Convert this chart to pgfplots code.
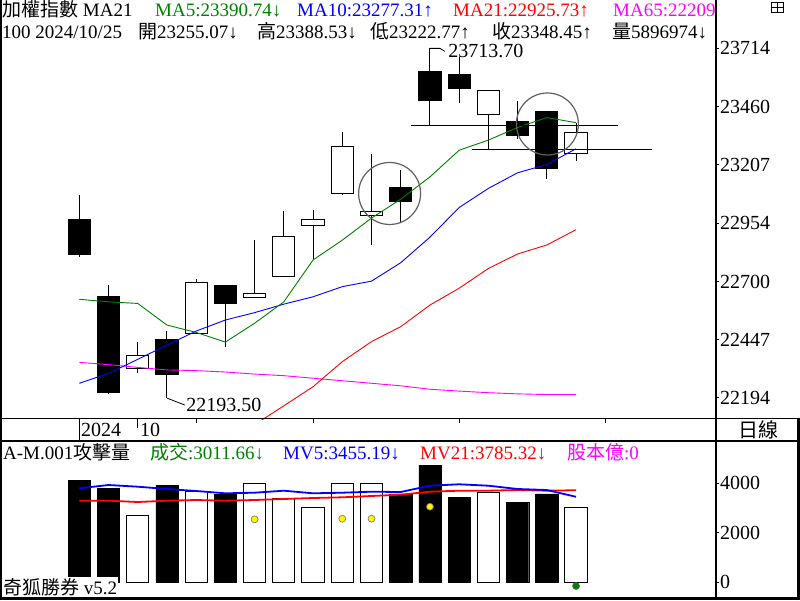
\documentclass[border=0pt]{standalone}
\usepackage{fontspec}
\setmainfont{Liberation Serif}
\newfontfamily\cjk{Noto Sans CJK TC}
\usepackage{pgfplots}
\pgfplotsset{compat=1.18}
\usepgfplotslibrary{statistics}
\definecolor{mgreen}{RGB}{0,128,0}
\definecolor{mblue}{RGB}{0,0,255}
\definecolor{mred}{RGB}{255,0,0}
\definecolor{mmag}{RGB}{255,0,255}
\definecolor{cgray}{RGB}{96,96,96}
\newcommand\tf{\fontsize{19}{19}\selectfont}
\newcommand\lf{\fontsize{20}{20}\selectfont}
\newcommand\candle[6]{\addplot[draw=black, line width=1pt, fill=#6, boxplot prepared={draw position=#1, lower whisker=#2, lower quartile=#3, median=#3, upper quartile=#4, upper whisker=#5}] coordinates {};}
\pgfplotsset{
  chartbase/.style={
    scale only axis, width=715pt,
    xmin=-2.714, xmax=21.756,
    axis line style={draw=none},
    tick align=outside, major tick length=4pt, minor tick length=1.5pt,
    tick style={black, line width=1pt},
    ytick pos=right, yticklabel pos=right,
    minor y tick num=3,
    scaled y ticks=false,
    tick label style={font=\lf},
    yticklabel style={anchor=west, inner sep=1pt, /pgf/number format/.cd, fixed, precision=0, 1000 sep={}, assume math mode=true},
    clip mode=individual,
  }
}
\begin{document}
\begin{tikzpicture}[x=1pt,y=1pt]
\useasboundingbox (0pt,0pt) rectangle (800pt,600pt);
\fill[white] (0pt,0pt) rectangle (800pt,600pt);
% ---------------- price panel
\begin{axis}[chartbase, at={(0pt,181pt)}, anchor=south west, height=419pt,
  ymin=22102.7, ymax=23924,
  xtick={0,2,4,8,13,18}, xticklabels={}, xtick pos=bottom,
  ytick={22194,22447,22700,22954,23207,23460,23714},
  boxplot/draw direction=y, boxplot/box extend=0.763, boxplot/whisker extend=0]
\candle{0}{22806}{22819}{22972}{23076}{black}
\candle{1}{22215}{22217}{22637}{22685}{black}
\candle{2}{22304}{22324}{22380}{22436}{white}
\candle{3}{22193.5}{22295}{22450}{22486}{black}
\candle{4}{22473}{22475}{22697}{22710}{white}
\candle{5}{22414}{22604}{22685}{22686}{black}
\candle{6}{22630}{22631}{22649}{22880}{white}
\candle{7}{22721}{22723}{22896}{23006}{white}
\candle{8}{22797}{22944}{22970}{23011}{white}
\candle{9}{23076}{23083}{23287}{23350}{white}
\candle{10}{22860}{22988}{23005}{23254}{white}
\candle{11}{22953}{23050}{23111}{23185}{black}
\candle{12}{23380}{23486}{23614}{23713.7}{black}
\candle{13}{23477}{23538}{23598}{23677}{black}
\candle{14}{23271}{23426}{23531}{23531}{white}
\candle{15}{23318}{23333}{23397}{23484}{black}
\candle{16}{23148}{23190}{23441}{23441}{black}
\candle{17}{23222.77}{23255.07}{23348.45}{23388.53}{white}
% MA65
\addplot[mmag, line width=0.9pt] coordinates {(0,22349)(1,22339)(2,22327)(3,22316)(4,22313)(5,22307)(6,22298)(7,22291)(8,22280)(9,22269)(10,22258)(11,22247)(12,22232)(13,22224)(14,22217)(15,22212)(16,22209)(17,22209)};
% MA21
\addplot[mred, line width=0.9pt] coordinates {(6,22078)(7,22160)(8,22243)(9,22352)(10,22439)(11,22504)(12,22598)(13,22671)(14,22757)(15,22820)(16,22859)(17,22925.73)};
% MA10
\addplot[mblue, line width=0.9pt] coordinates {(0,22258)(1,22301)(2,22362)(3,22424)(4,22485)(5,22533)(6,22565)(7,22602)(8,22634)(9,22678)(10,22702)(11,22782)(12,22893)(13,23022)(14,23105)(15,23173)(16,23209)(17,23277.31)};
% MA5
\addplot[mgreen, line width=0.9pt] coordinates {(0,22623)(1,22612)(2,22605)(3,22511)(4,22479)(5,22437)(6,22519)(7,22612)(8,22794)(9,22880)(10,22976)(11,23058)(12,23155)(13,23271)(14,23315)(15,23370)(16,23413)(17,23390.74)};
% support lines
\addplot[black, line width=1pt] coordinates {(11.35,23380)(18.44,23380)};
\addplot[black, line width=1pt] coordinates {(13.44,23272)(19.61,23272)};
% circles
\addplot[only marks, mark=o, mark size=31pt, mark options={draw=cgray, line width=1.2pt}] coordinates {(10.62,23083)(16.02,23385)};
% annotations
\draw[line width=0.8pt] (axis cs:12,23713.7) -- ++(10pt,0pt) -- ++(5pt,-3pt) node[anchor=west, inner sep=0pt, xshift=3pt, font=\lf] {23713.70};
\draw[line width=0.8pt] (axis cs:3,22193.5) -- ++(18pt,-7pt) node[anchor=west, inner sep=0pt, xshift=1pt, font=\lf] {22193.50};
% date separators
\draw[line width=1pt] (axis cs:0,22102.7) -- ++(0pt,-22pt);
\draw[line width=1pt] (axis cs:2,22102.7) -- ++(0pt,-9pt);
\end{axis}
% ---------------- volume panel
\begin{axis}[chartbase, at={(0pt,2pt)}, anchor=south west, height=157pt,
  ymin=-634, ymax=5709,
  xtick=\empty,
  ytick={0,2000,4000}]
\addplot[ybar, bar width=22.3pt, bar shift=0pt, fill=black, draw=black] coordinates {(0,4133)(1,3810)(3,3931)(5,3540)(11,3568)(12,4739)(13,3446)(15,3244)(16,3568)};
\addplot[ybar, bar width=22.3pt, bar shift=0pt, fill=white, draw=black, line width=1pt] coordinates {(2,2707)(4,3689)(6,3972)(7,3406)(8,3030)(9,4012)(10,4012)(14,3648)(17,3011.66)};
\addplot[mred, line width=1.8pt] coordinates {(0,3297)(1,3297)(2,3244)(3,3297)(4,3325)(5,3297)(6,3325)(7,3366)(8,3406)(9,3434)(10,3487)(11,3540)(12,3661)(13,3701)(14,3701)(15,3729)(16,3701)(17,3720)};
\addplot[mblue, line width=1.8pt] coordinates {(0,3798)(1,3931)(2,3863)(3,3770)(4,3689)(5,3596)(6,3620)(7,3701)(8,3596)(9,3620)(10,3661)(11,3648)(12,3903)(13,3960)(14,3903)(15,3770)(16,3729)(17,3455.19)};
\addplot[only marks, mark=*, mark size=3.5pt, mark options={fill=yellow, draw=black!55, line width=0.6pt}] coordinates {(6,2545)(9,2570)(10,2570)(12,3055)};
\addplot[only marks, mark=*, mark size=3.5pt, mark options={fill=mgreen, draw=black!60, line width=0.6pt}] coordinates {(17,-150)};
\end{axis}
% ---------------- frame
\draw[line width=2pt] (1,0) -- (1,600);
\draw[line width=2pt] (715.5,0) -- (715.5,600);
\draw[line width=1pt] (0,181) -- (800,181);
\draw[line width=2pt] (0,159) -- (800,159);
\draw[line width=2.5pt] (0,1.3) -- (800,1.3);
\draw[line width=2.5pt] (798.7,0) -- (798.7,181);
% icon
\draw[line width=0.8pt] (771,588) rectangle (783,598);
\draw[line width=0.8pt] (771,593) -- (783,593);
\draw[line width=0.8pt] (777,588) -- (777,593);
\draw[line width=0.8pt] (777,593) -- (777,598);
% ---------------- titles
\begin{scope}
\clip (0,400) rectangle (714,600);
\node[anchor=base west, inner sep=0pt, font=\tf] at (2,583.3) {{\cjk 加權指數} MA21};
\node[anchor=base west, inner sep=0pt, font=\tf, text=mgreen] at (155,583.3) {MA5:23390.74↓};
\node[anchor=base west, inner sep=0pt, font=\tf, text=mblue] at (297,583.3) {MA10:23277.31↑};
\node[anchor=base west, inner sep=0pt, font=\tf, text=mred] at (453,583.3) {MA21:22925.73↑};
\node[anchor=base west, inner sep=0pt, font=\tf, text=mmag] at (613,583.3) {MA65:22209.46↓};
\node[anchor=base west, inner sep=0pt, font=\tf] at (2,561.7) {100 2024/10/25};
\node[anchor=base west, inner sep=0pt, font=\tf] at (138,561.7) {{\cjk 開}23255.07↓};
\node[anchor=base west, inner sep=0pt, font=\tf] at (257,561.7) {{\cjk 高}23388.53↓};
\node[anchor=base west, inner sep=0pt, font=\tf] at (370,561.7) {{\cjk 低}23222.77↑};
\node[anchor=base west, inner sep=0pt, font=\tf] at (492,561.7) {{\cjk 收}23348.45↑};
\node[anchor=base west, inner sep=0pt, font=\tf] at (612,561.7) {{\cjk 量}5896974↓};
\end{scope}
\node[anchor=base west, inner sep=0pt, font=\tf] at (3,141) {A-M.001{\cjk 攻擊量}};
\node[anchor=base west, inner sep=0pt, font=\tf, text=mgreen] at (150,141) {{\cjk 成交}:3011.66↓};
\node[anchor=base west, inner sep=0pt, font=\tf, text=mblue] at (283,141) {MV5:3455.19↓};
\node[anchor=base west, inner sep=0pt, font=\tf, text=mred] at (420,141) {MV21:3785.32↓};
\node[anchor=base west, inner sep=0pt, font=\tf, text=mmag] at (567,141) {{\cjk 股本億}:0};
% strip labels
\node[anchor=base west, inner sep=0pt, font=\lf] at (81,164) {2024};
\node[anchor=base west, inner sep=0pt, font=\lf] at (140,164) {10};
\node[anchor=center, inner sep=0pt, font=\lf] at (758,170) {\cjk 日線};
% bottom-left label
\node[anchor=south west, fill=white, inner sep=1pt, font=\tf] at (2,3) {{\cjk 奇狐勝券} v5.2};
\end{tikzpicture}
\end{document}
